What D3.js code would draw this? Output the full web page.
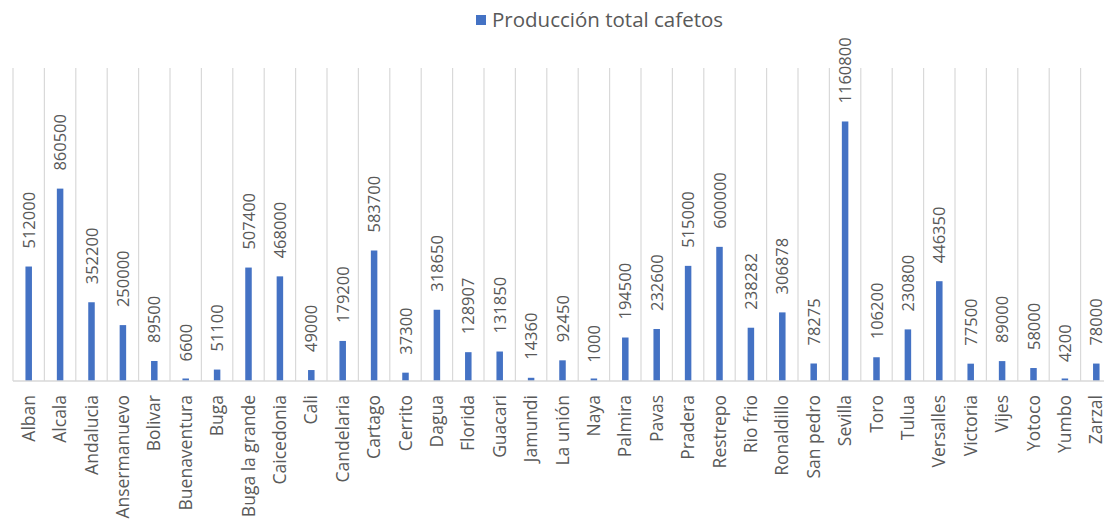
<!DOCTYPE html>
<html>
<head>
<meta charset="utf-8">
<script src="https://cdn.jsdelivr.net/npm/d3@7"></script>
<style>
  html, body { margin: 0; padding: 0; background: #fff; }
  svg { display: block; font-family: "Open Sans", sans-serif; }
</style>
</head>
<body>
<div id="chart"></div>
<script>
// municipios y producción total de cafetos
const municipios = [
    "Alban", "Alcala", "Andalucia", "Ansermanuevo", "Bolivar", "Buenaventura", "Buga",
    "Buga la grande", "Caicedonia", "Cali", "Candelaria", "Cartago", "Cerrito", "Dagua",
    "Florida", "Guacari", "Jamundi", "La unión", "Naya", "Palmira", "Pavas", "Pradera",
    "Restrepo", "Rio frio", "Ronaldillo", "San pedro", "Sevilla", "Toro", "Tulua",
    "Versalles", "Victoria", "Vijes", "Yotoco", "Yumbo", "Zarzal"
];
const produccion = [
    512000, 860500, 352200, 250000, 89500, 6600, 51100,
    507400, 468000, 49000, 179200, 583700, 37300, 318650,
    128907, 131850, 14360, 92450, 1000, 194500, 232600, 515000,
    600000, 238282, 306878, 78275, 1160800, 106200, 230800,
    446350, 77500, 89000, 58000, 4200, 78000
];
const serieNombre = "Producción total cafetos";
const yMax = 1400000;

const width = 1104;
const height = 523;
const plot = {left: 13, top: 68, bottom: 381, step: 31.4};

const data = municipios.map((m, i) => ({name: m, value: produccion[i]}));

const svg = d3.select('#chart')
    .append('svg')
    .attr('width', width)
    .attr('height', height);

const x = d3.scaleBand()
    .domain(municipios)
    .range([plot.left, plot.left + municipios.length * plot.step])
    .padding(0);

const y = d3.scaleLinear()
    .domain([0, yMax])
    .range([plot.bottom, plot.top]);

const barW = 6.5;
const minBarH = 2.5;   // barras muy pequeñas siguen visibles
const textColor = '#595959';

// vertical gridlines between categories
const gridX = municipios.map(d => x(d)).concat([x.range()[1]]);
svg.append('g')
    .selectAll('line')
    .data(gridX)
    .enter().append('line')
        .attr('x1', d => d).attr('x2', d => d)
        .attr('y1', plot.top).attr('y2', plot.bottom)
        .attr('stroke', '#d9d9d9')
        .attr('stroke-width', 1.2);

// bars
svg.append('g')
    .selectAll('rect')
    .data(data)
    .enter().append('rect')
        .attr('x', d => x(d.name) + x.bandwidth() / 2 - barW / 2)
        .attr('y', d => Math.min(y(d.value), y(0) - minBarH))
        .attr('width', barW)
        .attr('height', d => Math.max(y(0) - y(d.value), minBarH))
        .attr('fill', '#4472C4');

// baseline
svg.append('line')
    .attr('x1', plot.left).attr('x2', x.range()[1])
    .attr('y1', y(0)).attr('y2', y(0))
    .attr('stroke', '#d9d9d9')
    .attr('stroke-width', 1.5);

// value labels (rotated)
svg.append('g')
    .selectAll('text')
    .data(data)
    .enter().append('text')
        .attr('transform', d => `translate(${x(d.name) + x.bandwidth() / 2 + 6},${y(d.value) - 18}) rotate(-90)`)
        .attr('text-anchor', 'start')
        .attr('font-size', '16.5px')
        .attr('fill', textColor)
        .text(d => d.value);

// category labels (rotated)
svg.append('g')
    .selectAll('text')
    .data(data)
    .enter().append('text')
        .attr('transform', d => `translate(${x(d.name) + x.bandwidth() / 2 + 6},${plot.bottom + 14}) rotate(-90)`)
        .attr('text-anchor', 'end')
        .attr('font-size', '17.5px')
        .attr('fill', textColor)
        .text(d => d.name);

// legend
const legend = svg.append('g').attr('transform', 'translate(476,15)');
legend.append('rect')
    .attr('width', 10).attr('height', 10)
    .attr('fill', '#4472C4');
legend.append('text')
    .attr('x', 16).attr('y', 12)
    .attr('font-size', '20.5px')
    .attr('fill', textColor)
    .text(serieNombre);
</script>
</body>
</html>
